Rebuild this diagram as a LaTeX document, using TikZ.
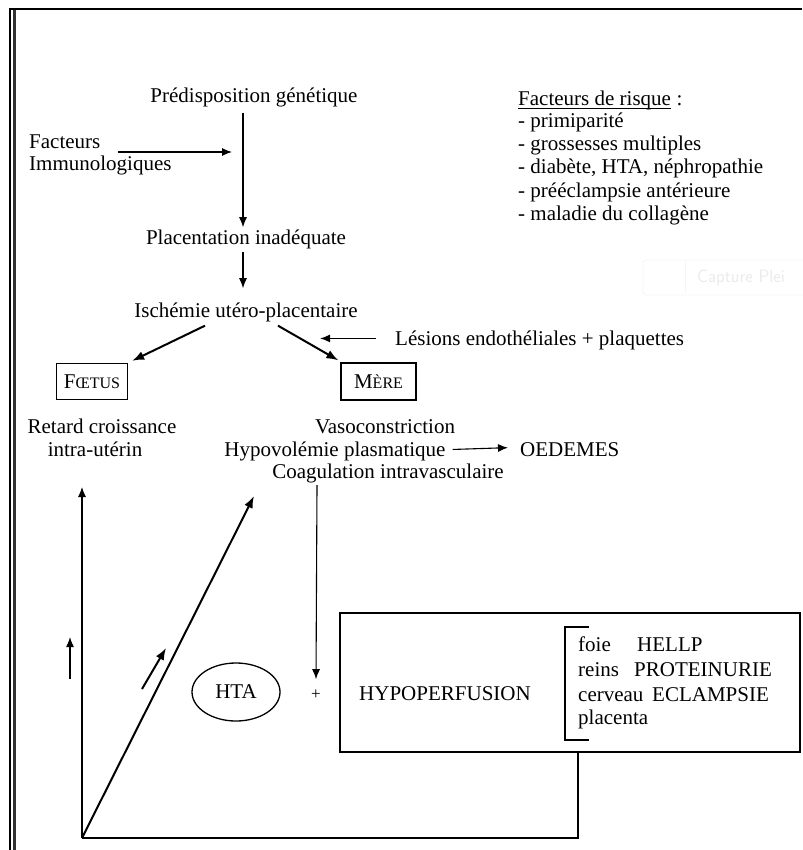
\documentclass[tikz,border=0pt]{standalone}
\usepackage{fontspec}
\setmainfont{Liberation Serif}
\usetikzlibrary{arrows.meta,shapes.geometric}
\newcommand\smc[1]{{\fontsize{16}{16}\selectfont #1}}
\begin{document}
\begin{tikzpicture}[x=1pt,y=-1pt,
  txt/.style={inner sep=0pt,font=\fontsize{21}{23}\selectfont},
  arr/.style={line width=1.1pt,-{Latex[length=10pt,width=8pt]}},
  barr/.style={line width=2pt,-{Latex[length=12pt,width=9pt]}},
  boxed/.style={draw,line width=1.3pt,inner sep=0pt,font=\fontsize{21}{23}\selectfont},
  faint/.style={text=black!7,draw=black!4,line width=0.8pt}
]
\useasboundingbox (0,0) rectangle (802,850);
\fill[white] (0,0) rectangle (802,850);
% frame
\draw[line width=2pt] (9,9) -- (802,9);
\draw[line width=2pt] (10,8) -- (10,850);
\draw[line width=2.6pt,black!80] (14.3,10) -- (14.3,850);

% screenshot overlay artifact
\draw[faint,rounded corners=3pt] (643,260) rectangle (830,295);
\draw[faint] (685,262) -- (685,293);
\node[txt,anchor=west,text=black!8,font=\sffamily\fontsize{18}{20}\selectfont] (cap) at (697,278) {Capture Plei};

% top chain
\node[txt,anchor=base] (pred) at (254,103) {Prédisposition génétique};
\node[txt,anchor=base west] (fac1) at (29,149) {Facteurs};
\node[txt,anchor=base west] (fac2) at (29,171) {Immunologiques};
\node[txt,anchor=base] (plac) at (246,244) {Placentation inadéquate};
\node[txt,anchor=base] (isch) at (246,317) {Ischémie utéro-placentaire};
\node[txt,anchor=base west] (les) at (395,345) {Lésions endothéliales + plaquettes};

\coordinate (fi1) at (118,152);
\coordinate (fi2) at (232,152);
\draw[arr] (fi1) -- (fi2);
\draw[arr] ([xshift=-11pt,yshift=-5pt]pred.south) -- ([xshift=-3pt,yshift=2pt]plac.north);
\draw[arr] ([xshift=-3pt,yshift=-3.5pt]plac.south) -- ([xshift=-3pt,yshift=14pt]isch.north);

% risk factors
\node[txt,anchor=base west] (r0) at (518,106) {Facteurs de risque};
\node[txt,anchor=base west] (r0b) at (r0.base east) {\ :};
\draw[line width=0.9pt] ([yshift=-2.2pt]r0.base west) -- ([yshift=-2.2pt]r0.base east);
\node[txt,anchor=base west] (r1) at (518,128) {- primiparité};
\node[txt,anchor=base west] (r2) at (518,151) {- grossesses multiples};
\node[txt,anchor=base west] (r3) at (518,174) {- diabète, HTA, néphropathie};
\node[txt,anchor=base west] (r4) at (518,198) {- prééclampsie antérieure};
\node[txt,anchor=base west] (r5) at (518,221) {- maladie du collagène};

% foetus / mere
\node[boxed,minimum width=71pt,minimum height=36pt] (foe) at (92,381.5) {F\smc{ŒTUS}};
\node[boxed,minimum width=75pt,minimum height=37pt] (mere) at (378.5,381.5) {M\smc{ÈRE}};
\draw[barr] ([xshift=-41pt,yshift=-4pt]isch.south) -- ([xshift=4pt,yshift=2pt]foe.north east);
\draw[barr] ([xshift=32pt,yshift=-4pt]isch.south) -- ([xshift=-2pt,yshift=2pt]mere.north west);
\draw[arr,line width=1.3pt] ([xshift=-19pt,yshift=1.5pt]les.west) -- ([xshift=-75pt,yshift=1.5pt]les.west);

% consequences
\node[txt,anchor=base] (ret1) at (102,433) {Retard croissance};
\node[txt,anchor=base] (ret2) at (95,456) {intra-utérin};
\node[txt,anchor=base] (vaso) at (385,433) {Vasoconstriction};
\node[txt,anchor=base] (hypo) at (335,456) {Hypovolémie plasmatique};
\node[txt,anchor=base] (coag) at (388,478) {Coagulation intravasculaire};
\node[txt,anchor=base west] (oed) at (520,456) {OEDEMES};
\draw[arr] ([xshift=7pt,yshift=1.5pt]hypo.east) -- ([xshift=-12pt,yshift=1.5pt]oed.west);

% bottom
\node[draw,ellipse,line width=1.3pt,minimum width=88pt,minimum height=58pt,inner sep=0pt,font=\fontsize{21}{23}\selectfont] (hta) at (236,692) {HTA};
\node[txt,anchor=base,font=\fontsize{17}{17}\selectfont] (plus) at (316,699) {+};
\draw[arr] ([xshift=-71pt,yshift=-2.5pt]coag.south) -- ([yshift=10pt]plus.north);

\node[draw,line width=1.3pt,minimum width=460pt,minimum height=139pt,inner sep=0pt] (hbox) at (570,682.5) {};
\node[txt,anchor=base] (hypf) at (445,700) {HYPOPERFUSION};
\coordinate (bt) at (565,627);
\coordinate (bb) at (565,740);
\draw[line width=1.3pt] ([xshift=24pt]bt) -- (bt) -- (bb) -- ([xshift=24pt]bb);
\node[txt,anchor=base west] (o1) at (578,651) {foie};
\node[txt,anchor=base west] (d1) at (637,651) {HELLP};
\node[txt,anchor=base west] (o2) at (578,676) {reins};
\node[txt,anchor=base west] (d2) at (634,676) {PROTEINURIE};
\node[txt,anchor=base west] (o3) at (578,701) {cerveau};
\node[txt,anchor=base west] (d3) at (652,701) {ECLAMPSIE};
\node[txt,anchor=base west] (o4) at (578,724) {placenta};

\coordinate (corner) at (82,838);
\coordinate (tipA) at (82,487);
\coordinate (tipB) at (254,496);
\draw[line width=1.6pt] (hbox.south -| 578,0) |- (corner);
\draw[arr] (corner) -- (tipA);
\draw[barr] (corner) -- (tipB);

\coordinate (sa1) at (70,679);
\coordinate (sa2) at (70,637);
\draw[arr,line width=1.3pt] (sa1) -- (sa2);
\coordinate (sb1) at (142,689);
\coordinate (sb2) at (166,648);
\draw[barr] (sb1) -- (sb2);
\end{tikzpicture}
\end{document}
